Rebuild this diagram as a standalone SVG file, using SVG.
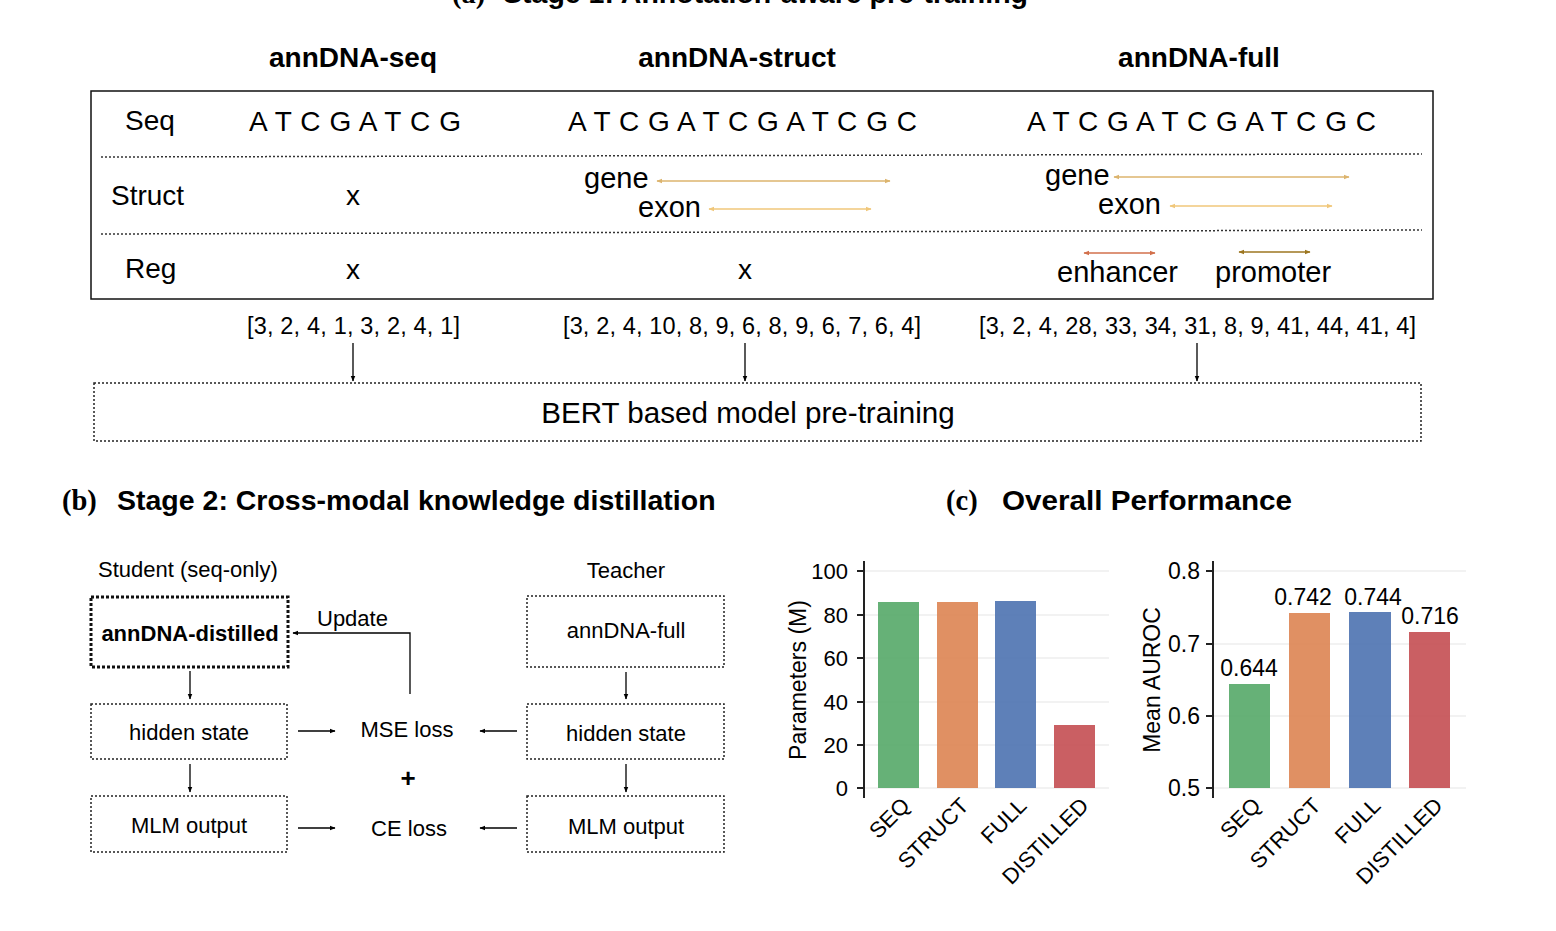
<svg xmlns="http://www.w3.org/2000/svg" width="1556" height="931" viewBox="0 0 1556 931">
<style>
text{font-family:"Liberation Sans",Arial,sans-serif;fill:#000}
.serif{font-family:"Liberation Serif","Times New Roman",serif;font-weight:bold}
.title{font-size:28.5px;font-weight:bold}
.hdr{font-size:28px;font-weight:bold}
.lbl{font-size:28px}
.seq{font-size:28px}
.ann{font-size:29px}
.tok{font-size:23.5px}
.box{fill:none;stroke:#222;stroke-width:1.5;stroke-dasharray:2 2}
.boxb{fill:none;stroke:#111;stroke-width:3;stroke-dasharray:3 2}
.sep{stroke:#333;stroke-width:1.5;stroke-dasharray:2 2}
.ln{stroke:#000;stroke-width:1.3;fill:none}
.t22{font-size:22px}
.t22b{font-size:22px;font-weight:bold}
.tick{font-size:22px}
.val{font-size:23px}
.grid{stroke:#e6e6e6;stroke-width:1.2}
.axis{stroke:#222;stroke-width:2}
</style>
<defs>
<marker id="ah" viewBox="0 0 10 10" refX="9" refY="5" markerWidth="6" markerHeight="6" orient="auto" markerUnits="userSpaceOnUse">
<path d="M0,1 L10,5 L0,9 Z" fill="#000"/>
</marker>
<marker id="mGene" viewBox="0 0 10 10" refX="9" refY="5" markerWidth="6" markerHeight="6" orient="auto-start-reverse" markerUnits="userSpaceOnUse">
<path d="M0,1 L10,5 L0,9 Z" fill="#dcb46e"/>
</marker>
<marker id="mExon" viewBox="0 0 10 10" refX="9" refY="5" markerWidth="6" markerHeight="6" orient="auto-start-reverse" markerUnits="userSpaceOnUse">
<path d="M0,1 L10,5 L0,9 Z" fill="#f0c77a"/>
</marker>
<marker id="mEnh" viewBox="0 0 10 10" refX="9" refY="5" markerWidth="6" markerHeight="6" orient="auto-start-reverse" markerUnits="userSpaceOnUse">
<path d="M0,1 L10,5 L0,9 Z" fill="#d2704c"/>
</marker>
<marker id="mPro" viewBox="0 0 10 10" refX="9" refY="5" markerWidth="6" markerHeight="6" orient="auto-start-reverse" markerUnits="userSpaceOnUse">
<path d="M0,1 L10,5 L0,9 Z" fill="#9c7620"/>
</marker>
</defs>
<rect width="1556" height="931" fill="#fff"/>

<!-- Stage 1 (title is cropped at the top edge, as in the reference) -->
<g id="titleA">
<text class="serif" x="452" y="3" font-size="28.5">(a)</text>
<text class="title" x="503" y="3" textLength="525" lengthAdjust="spacingAndGlyphs">Stage 1: Annotation-aware pre-training</text>
</g>
<g id="headers">
<text class="hdr" x="353" y="67" text-anchor="middle">annDNA-seq</text>
<text class="hdr" x="737" y="67" text-anchor="middle">annDNA-struct</text>
<text class="hdr" x="1199" y="67" text-anchor="middle">annDNA-full</text>
</g>
<g id="table">
<rect x="91" y="91" width="1342" height="208" fill="none" stroke="#111" stroke-width="1.5"/>
<line class="sep" x1="101" y1="157" x2="1422" y2="154"/>
<line class="sep" x1="101" y1="234" x2="1422" y2="230"/>
<text class="lbl" x="125" y="130">Seq</text>
<text class="lbl" x="111" y="205">Struct</text>
<text class="lbl" x="125" y="278">Reg</text>
<text class="seq" x="249" y="131" textLength="212" lengthAdjust="spacing">A T C G A T C G</text>
<text class="seq" x="568" y="131" textLength="349" lengthAdjust="spacing">A T C G A T C G A T C G C</text>
<text class="seq" x="1027" y="131" textLength="349" lengthAdjust="spacing">A T C G A T C G A T C G C</text>
<text class="seq" x="353" y="205" text-anchor="middle">x</text>
<text class="seq" x="353" y="279" text-anchor="middle">x</text>
<text class="seq" x="745" y="279" text-anchor="middle">x</text>
<text class="ann" x="584" y="188">gene</text>
<line x1="657" y1="181" x2="890" y2="181" stroke="#dcb46e" stroke-width="1.5" marker-start="url(#mGene)" marker-end="url(#mGene)"/>
<text class="ann" x="638" y="217">exon</text>
<line x1="709" y1="209" x2="871" y2="209" stroke="#f0c77a" stroke-width="1.5" marker-start="url(#mExon)" marker-end="url(#mExon)"/>
<text class="ann" x="1045" y="185">gene</text>
<line x1="1114" y1="177" x2="1349" y2="177" stroke="#dcb46e" stroke-width="1.5" marker-start="url(#mGene)" marker-end="url(#mGene)"/>
<text class="ann" x="1098" y="214">exon</text>
<line x1="1170" y1="206" x2="1332" y2="206" stroke="#f0c77a" stroke-width="1.5" marker-start="url(#mExon)" marker-end="url(#mExon)"/>
<line x1="1084" y1="253" x2="1155" y2="253" stroke="#d2704c" stroke-width="1.5" marker-start="url(#mEnh)" marker-end="url(#mEnh)"/>
<text class="ann" x="1057" y="282">enhancer</text>
<line x1="1239" y1="252" x2="1310" y2="252" stroke="#9c7620" stroke-width="1.5" marker-start="url(#mPro)" marker-end="url(#mPro)"/>
<text class="ann" x="1215" y="282">promoter</text>
</g>
<g id="tokens">
<text class="tok" x="247" y="334" textLength="213" lengthAdjust="spacing">[3, 2, 4, 1, 3, 2, 4, 1]</text>
<text class="tok" x="563" y="334" textLength="358" lengthAdjust="spacing">[3, 2, 4, 10, 8, 9, 6, 8, 9, 6, 7, 6, 4]</text>
<text class="tok" x="979" y="334" textLength="437" lengthAdjust="spacing">[3, 2, 4, 28, 33, 34, 31, 8, 9, 41, 44, 41, 4]</text>
</g>
<g id="bert">
<rect class="box" x="94" y="383" width="1327" height="58"/>
<text x="748" y="423" font-size="29.6" text-anchor="middle">BERT based model pre-training</text>
</g>

<!-- Stage 2 -->
<g id="titleB">
<text class="serif" x="62" y="510" font-size="28.5">(b)</text>
<text class="title" x="117" y="510">Stage 2: Cross-modal knowledge distillation</text>
</g>
<g id="titleC">
<text class="serif" x="946" y="510" font-size="28.5">(c)</text>
<text class="title" x="1002" y="510" textLength="290" lengthAdjust="spacingAndGlyphs">Overall Performance</text>
</g>
<text class="t22" x="98" y="577">Student (seq-only)</text>
<text class="t22" x="626" y="578" text-anchor="middle">Teacher</text>

<g id="distilled">
<rect class="boxb" x="91" y="597" width="197" height="70"/>
<text class="t22b" x="190" y="641" text-anchor="middle">annDNA-distilled</text>
</g>
<g id="hiddenS">
<rect class="box" x="91" y="704" width="196" height="55"/>
<text class="t22" x="189" y="740" text-anchor="middle">hidden state</text>
</g>
<g id="mlmS">
<rect class="box" x="91" y="796" width="196" height="56"/>
<text class="t22" x="189" y="833" text-anchor="middle">MLM output</text>
</g>
<g id="full">
<rect class="box" x="527" y="596" width="197" height="71"/>
<text class="t22" x="626" y="638" text-anchor="middle">annDNA-full</text>
</g>
<g id="hiddenT">
<rect class="box" x="527" y="704" width="197" height="55"/>
<text class="t22" x="626" y="741" text-anchor="middle">hidden state</text>
</g>
<g id="mlmT">
<rect class="box" x="527" y="796" width="197" height="56"/>
<text class="t22" x="626" y="834" text-anchor="middle">MLM output</text>
</g>
<g id="mse"><text class="t22" x="407" y="737" text-anchor="middle">MSE loss</text></g>
<g id="plus"><text x="408" y="787" font-size="26" font-weight="bold" text-anchor="middle">+</text></g>
<g id="ce"><text class="t22" x="409" y="836" text-anchor="middle">CE loss</text></g>

<g id="connectors">
<line class="ln" x1="353" y1="343" x2="353" y2="381" marker-end="url(#ah)"/>
<line class="ln" x1="745" y1="343" x2="745" y2="381" marker-end="url(#ah)"/>
<line class="ln" x1="1197" y1="343" x2="1197" y2="381" marker-end="url(#ah)"/>
<line class="ln" x1="190" y1="671" x2="190" y2="699" marker-end="url(#ah)"/>
<line class="ln" x1="190" y1="764" x2="190" y2="792" marker-end="url(#ah)"/>
<line class="ln" x1="626" y1="672" x2="626" y2="699" marker-end="url(#ah)"/>
<line class="ln" x1="626" y1="764" x2="626" y2="792" marker-end="url(#ah)"/>
<line class="ln" x1="298" y1="731" x2="335" y2="731" marker-end="url(#ah)"/>
<line class="ln" x1="517" y1="731" x2="480" y2="731" marker-end="url(#ah)"/>
<line class="ln" x1="298" y1="828" x2="335" y2="828" marker-end="url(#ah)"/>
<line class="ln" x1="517" y1="828" x2="480" y2="828" marker-end="url(#ah)"/>
<polyline class="ln" points="410,694 410,633 293,633" marker-end="url(#ah)"/>
<text class="t22" x="317" y="626">Update</text>
</g>

<!-- Chart 1 -->
<g id="chart1">
<line class="grid" x1="865" y1="571" x2="1109" y2="571"/>
<line class="grid" x1="865" y1="615" x2="1109" y2="615"/>
<line class="grid" x1="865" y1="658" x2="1109" y2="658"/>
<line class="grid" x1="865" y1="702" x2="1109" y2="702"/>
<line class="grid" x1="865" y1="745" x2="1109" y2="745"/>
<line class="grid" x1="865" y1="788" x2="1109" y2="788"/>
<rect x="878" y="602" width="41" height="186" fill="#55a868" fill-opacity="0.9"/>
<rect x="937" y="602" width="41" height="186" fill="#dd8452" fill-opacity="0.9"/>
<rect x="995" y="601" width="41" height="187" fill="#4c72b0" fill-opacity="0.9"/>
<rect x="1054" y="725" width="41" height="63" fill="#c44e52" fill-opacity="0.9"/>
<line class="axis" x1="864" y1="561" x2="864" y2="798"/>
<g class="axis">
<line x1="857" y1="571" x2="864" y2="571"/>
<line x1="857" y1="615" x2="864" y2="615"/>
<line x1="857" y1="658" x2="864" y2="658"/>
<line x1="857" y1="702" x2="864" y2="702"/>
<line x1="857" y1="745" x2="864" y2="745"/>
<line x1="857" y1="788" x2="864" y2="788"/>
</g>
<text class="tick" x="848" y="579" text-anchor="end">100</text>
<text class="tick" x="848" y="623" text-anchor="end">80</text>
<text class="tick" x="848" y="666" text-anchor="end">60</text>
<text class="tick" x="848" y="710" text-anchor="end">40</text>
<text class="tick" x="848" y="753" text-anchor="end">20</text>
<text class="tick" x="848" y="796" text-anchor="end">0</text>
<text x="0" y="0" font-size="23" text-anchor="middle" transform="translate(806,680) rotate(-90)">Parameters (M)</text>
<text class="tick" text-anchor="end" transform="translate(911,807) rotate(-45)">SEQ</text>
<text class="tick" text-anchor="end" transform="translate(970,807) rotate(-45)">STRUCT</text>
<text class="tick" text-anchor="end" transform="translate(1028,807) rotate(-45)">FULL</text>
<text class="tick" text-anchor="end" transform="translate(1090,807) rotate(-45)">DISTILLED</text>
</g>

<!-- Chart 2 -->
<g id="chart2">
<line class="grid" x1="1214" y1="571" x2="1466" y2="571"/>
<line class="grid" x1="1214" y1="644" x2="1466" y2="644"/>
<line class="grid" x1="1214" y1="716" x2="1466" y2="716"/>
<line class="grid" x1="1214" y1="788" x2="1466" y2="788"/>
<rect x="1229" y="684" width="41" height="104" fill="#55a868" fill-opacity="0.9"/>
<rect x="1289" y="613" width="41" height="175" fill="#dd8452" fill-opacity="0.9"/>
<rect x="1349" y="612" width="42" height="176" fill="#4c72b0" fill-opacity="0.9"/>
<rect x="1409" y="632" width="41" height="156" fill="#c44e52" fill-opacity="0.9"/>
<line class="axis" x1="1213" y1="561" x2="1213" y2="798"/>
<g class="axis">
<line x1="1206" y1="571" x2="1213" y2="571"/>
<line x1="1206" y1="644" x2="1213" y2="644"/>
<line x1="1206" y1="716" x2="1213" y2="716"/>
<line x1="1206" y1="788" x2="1213" y2="788"/>
</g>
<text class="val" x="1200" y="579" text-anchor="end">0.8</text>
<text class="val" x="1200" y="652" text-anchor="end">0.7</text>
<text class="val" x="1200" y="724" text-anchor="end">0.6</text>
<text class="val" x="1200" y="796" text-anchor="end">0.5</text>
<text class="val" x="1249" y="676" text-anchor="middle">0.644</text>
<text class="val" x="1303" y="605" text-anchor="middle">0.742</text>
<text class="val" x="1373" y="605" text-anchor="middle">0.744</text>
<text class="val" x="1430" y="624" text-anchor="middle">0.716</text>
<text x="0" y="0" font-size="23" text-anchor="middle" transform="translate(1160,680) rotate(-90)">Mean AUROC</text>
<text class="tick" text-anchor="end" transform="translate(1262,807) rotate(-45)">SEQ</text>
<text class="tick" text-anchor="end" transform="translate(1322,807) rotate(-45)">STRUCT</text>
<text class="tick" text-anchor="end" transform="translate(1382,807) rotate(-45)">FULL</text>
<text class="tick" text-anchor="end" transform="translate(1444,807) rotate(-45)">DISTILLED</text>
</g>
</svg>
